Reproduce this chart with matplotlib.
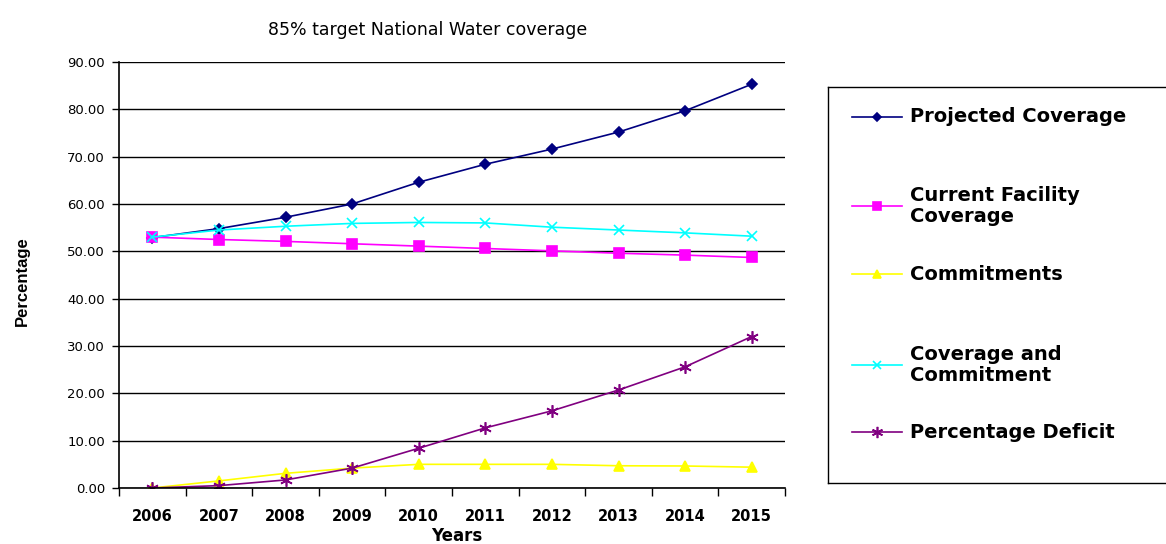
import numpy as np
import matplotlib.pyplot as plt
from matplotlib.lines import Line2D
from matplotlib.ticker import FormatStrFormatter, FixedLocator

plt.rcParams['font.family'] = ['DejaVu Sans']

years = ['2006', '2007', '2008', '2009', '2010', '2011', '2012', '2013', '2014', '2015']
projected = [52.9, 54.8, 57.2, 60.0, 64.6, 68.4, 71.6, 75.2, 79.7, 85.3]
current = [53.0, 52.5, 52.1, 51.6, 51.1, 50.6, 50.1, 49.6, 49.2, 48.7]
commitments = [0.0, 1.5, 3.1, 4.2, 5.0, 5.0, 5.0, 4.7, 4.65, 4.4]
cov_commit = [53.0, 54.5, 55.3, 55.9, 56.1, 56.0, 55.1, 54.5, 53.9, 53.2]
deficit = [0.0, 0.5, 1.7, 4.2, 8.4, 12.7, 16.3, 20.7, 25.6, 32.0]

series = [
    ('Projected Coverage', projected, '#000080', 'D', 5),
    ('Current Facility\nCoverage', current, '#FF00FF', 's', 7),
    ('Commitments', commitments, '#FFFF00', '^', 7),
    ('Coverage and\nCommitment', cov_commit, '#00FFFF', 'x', 7),
    ('Percentage Deficit', deficit, '#800080', (6, 2, 0), 9),
]

fig = plt.figure(figsize=(11.66, 5.44), dpi=100)
ax = fig.add_axes([119/1166, 56/544, 666/1166, 426/544])

x = np.arange(len(years))
lines = []
for label, vals, col, mk, ms in series:
    ln, = ax.plot(x, vals, color=col, marker=mk, markersize=ms, linewidth=1.2,
                  markeredgecolor=col, markeredgewidth=1.2, label=label)
    lines.append(ln)

ax.set_xlim(-0.5, len(years) - 0.5)
ax.set_ylim(0, 90)
ax.set_yticks(np.arange(0, 91, 10))
ax.yaxis.set_major_formatter(FormatStrFormatter('%.2f'))
ax.yaxis.grid(True, color='black', linewidth=1.0)
ax.set_axisbelow(True)

ax.set_xticks(x)
ax.set_xticklabels(years, fontsize=10.5, fontweight='bold')
ax.xaxis.set_minor_locator(FixedLocator(np.arange(-0.5, len(years), 1.0)))
ax.tick_params(axis='x', which='major', length=0, pad=15)
ax.tick_params(axis='x', which='minor', length=6, width=1, direction='out')
ax.tick_params(axis='y', labelsize=9.5, length=5, width=1, direction='out', pad=5)

for s in ['top', 'right']:
    ax.spines[s].set_visible(False)
for s in ['left', 'bottom']:
    ax.spines[s].set_linewidth(1.2)

fig.text(428/1166, 1 - 30/544, '85% target National Water coverage',
         ha='center', va='center', fontsize=12.5)
fig.text(22/1166, 1 - 281/544, 'Percentage', rotation=90,
         ha='center', va='center', fontsize=12, fontweight='bold',
         family='Liberation Sans')
fig.text(457/1166, 1 - 536/544, 'Years', ha='center', va='center',
         fontsize=12, fontweight='bold')

# legend box drawn by hand to follow the uneven spacing of the original
lax = fig.add_axes([828/1166, 1 - 483/544, 338/1166, 396/544])
lax.set_xlim(828, 1166)
lax.set_ylim(483, 87)
lax.set_xticks([])
lax.set_yticks([])
for s in lax.spines.values():
    s.set_linewidth(1.0)
lax.spines['right'].set_visible(False)
entry_y = [117, 206, 274, 365, 432]
for ln, yy in zip(lines, entry_y):
    lax.add_line(Line2D([852, 902], [yy, yy], color=ln.get_color(), linewidth=1.2))
    lax.plot([877], [yy], marker=ln.get_marker(), color=ln.get_color(),
             markersize=ln.get_markersize() * 0.9, markeredgewidth=1.2)
    lax.text(910, yy, ln.get_label(), ha='left', va='center', fontsize=14,
             fontweight='bold', linespacing=1.15)

fig.savefig('out.png', dpi=100)
